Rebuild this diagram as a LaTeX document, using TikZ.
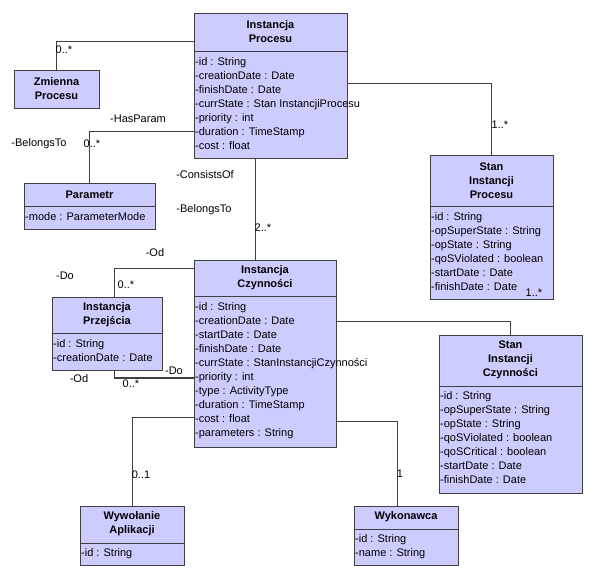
\documentclass[tikz,border=0pt]{standalone}
\usepackage{fontspec}
\setmainfont{Liberation Sans}
\usetikzlibrary{fit}
\definecolor{clsfill}{RGB}{204,204,255}
\definecolor{clsline}{RGB}{64,64,64}
\tikzset{
  clsbox/.style={draw=clsline, fill=clsfill, line width=1pt, inner sep=0pt},
  sepline/.style={draw=clsline, line width=1pt},
  hdr/.style={font=\fontsize{11}{14}\selectfont\bfseries, align=center, inner sep=0pt},
  attr/.style={font=\fontsize{11}{14}\selectfont, anchor=base west, inner sep=0pt},
  lbl/.style={font=\fontsize{11}{14}\selectfont, inner sep=0pt},
  conn/.style={draw=clsline, line width=1pt}
}
% name, x1, y1, x2, y2, sep, header, attrs
\newcommand{\umlcls}[8]{%
  \node[clsbox, fit={(#2,#3)(#4,#5)}] (#1) {};
  \node[hdr] (#1-h) at ({(#2+#4)/2},{(#3+#6)/2-1}) {#7};
  \ifx&#8&\else
  \draw[sepline] (#1.west |- 0,#6) -- (#1.east |- 0,#6);
  \foreach \a [count=\i from 0] in {#8} {
    \node[attr] (#1-a\i) at ({#2+1},{#6+13.5+14*\i}) {\a};
  }
  \fi
}
\begin{document}
\begin{tikzpicture}[x=1pt,y=-1pt]
\useasboundingbox (0,0) rectangle (595,572);

\umlcls{ip}{194}{14}{347}{159}{52}{Instancja\\Procesu}{-id : String,-creationDate : Date,-finishDate : Date,-currState : Stan InstancjiProcesu,-priority : int,-duration : TimeStamp,-cost : float}
\node[clsbox, fit={(14,71)(99,109)}] (zp) {};
\node[hdr] (zp-h) at (56.5,89) {Zmienna\\Procesu};
\umlcls{par}{24}{184}{155}{230}{207}{Parametr}{-mode : ParameterMode}
\umlcls{sip}{430}{156}{553}{300}{207}{Stan\\Instancji\\Procesu}{-id : String,-opSuperState : String,-opState : String,-qoSViolated : boolean,-startDate : Date,-finishDate : Date}
\umlcls{ic}{194}{261}{336}{447}{297}{Instancja\\Czynności}{-id : String,-creationDate : Date,-startDate : Date,-finishDate : Date,-currState : StanInstancjiCzynności,-priority : int,-type : ActivityType,-duration : TimeStamp,-cost : float,-parameters : String}
\umlcls{ipz}{52}{298}{162}{371}{334}{Instancja\\Przejścia}{-id : String,-creationDate : Date}
\umlcls{sic}{439}{336}{582}{493}{386}{Stan\\Instancji\\Czynności}{-id : String,-opSuperState : String,-opState : String,-qoSViolated : boolean,-qoSCritical : boolean,-startDate : Date,-finishDate : Date}
\umlcls{wyw}{80}{506}{184}{565}{543}{Wywołanie\\Aplikacji}{-id : String}
\umlcls{wyk}{354}{506}{458}{565}{529}{Wykonawca}{-id : String,-name : String}

% connectors
\draw[conn] (zp.north) |- (ip.west |- 0,42);
\draw[conn] (par.north) |- (ip.west |- 0,132);
\draw[conn] (ip.south -| 255,0) -- (ic.north -| 255,0);
\draw[conn] (ip.east |- 0,84) -| (sip.north);
\draw[conn] (ic.west |- 0,269) -| (ipz.north -| 114,0);
\draw[conn] (ipz.south -| 114,0) |- (ic.west |- 0,378);
\draw[conn] (ic.west |- 0,417) -| (wyw.north);
\draw[conn] (ic.east |- 0,322) -| (sic.north);
\draw[conn] (ic.east |- 0,421) -| (wyk.north -| 397,0);

% labels
\node[lbl] (l1) at (64,50) {0..*};
\node[lbl] (l2) at (138,119) {-HasParam};
\node[lbl] (l3) at (39,144) {-BelongsTo};
\node[lbl] (l4) at (92,144) {0..*};
\node[lbl] (l5) at (205,175) {-ConsistsOf};
\node[lbl] (l6) at (204,210) {-BelongsTo};
\node[lbl] (l7) at (263,228) {2..*};
\node[lbl] (l8) at (500,125) {1..*};
\node[lbl] (l9) at (534,293) {1..*};
\node[lbl] (l10) at (155,253) {-Od};
\node[lbl] (l11) at (65,276) {-Do};
\node[lbl] (l12) at (126,285) {0..*};
\node[lbl] (l13) at (174,371) {-Do};
\node[lbl] (l14) at (79,379) {-Od};
\node[lbl] (l15) at (131,384) {0..*};
\node[lbl] (l16) at (141,475) {0..1};
\node[lbl] (l17) at (400,474) {1};
\end{tikzpicture}
\end{document}
